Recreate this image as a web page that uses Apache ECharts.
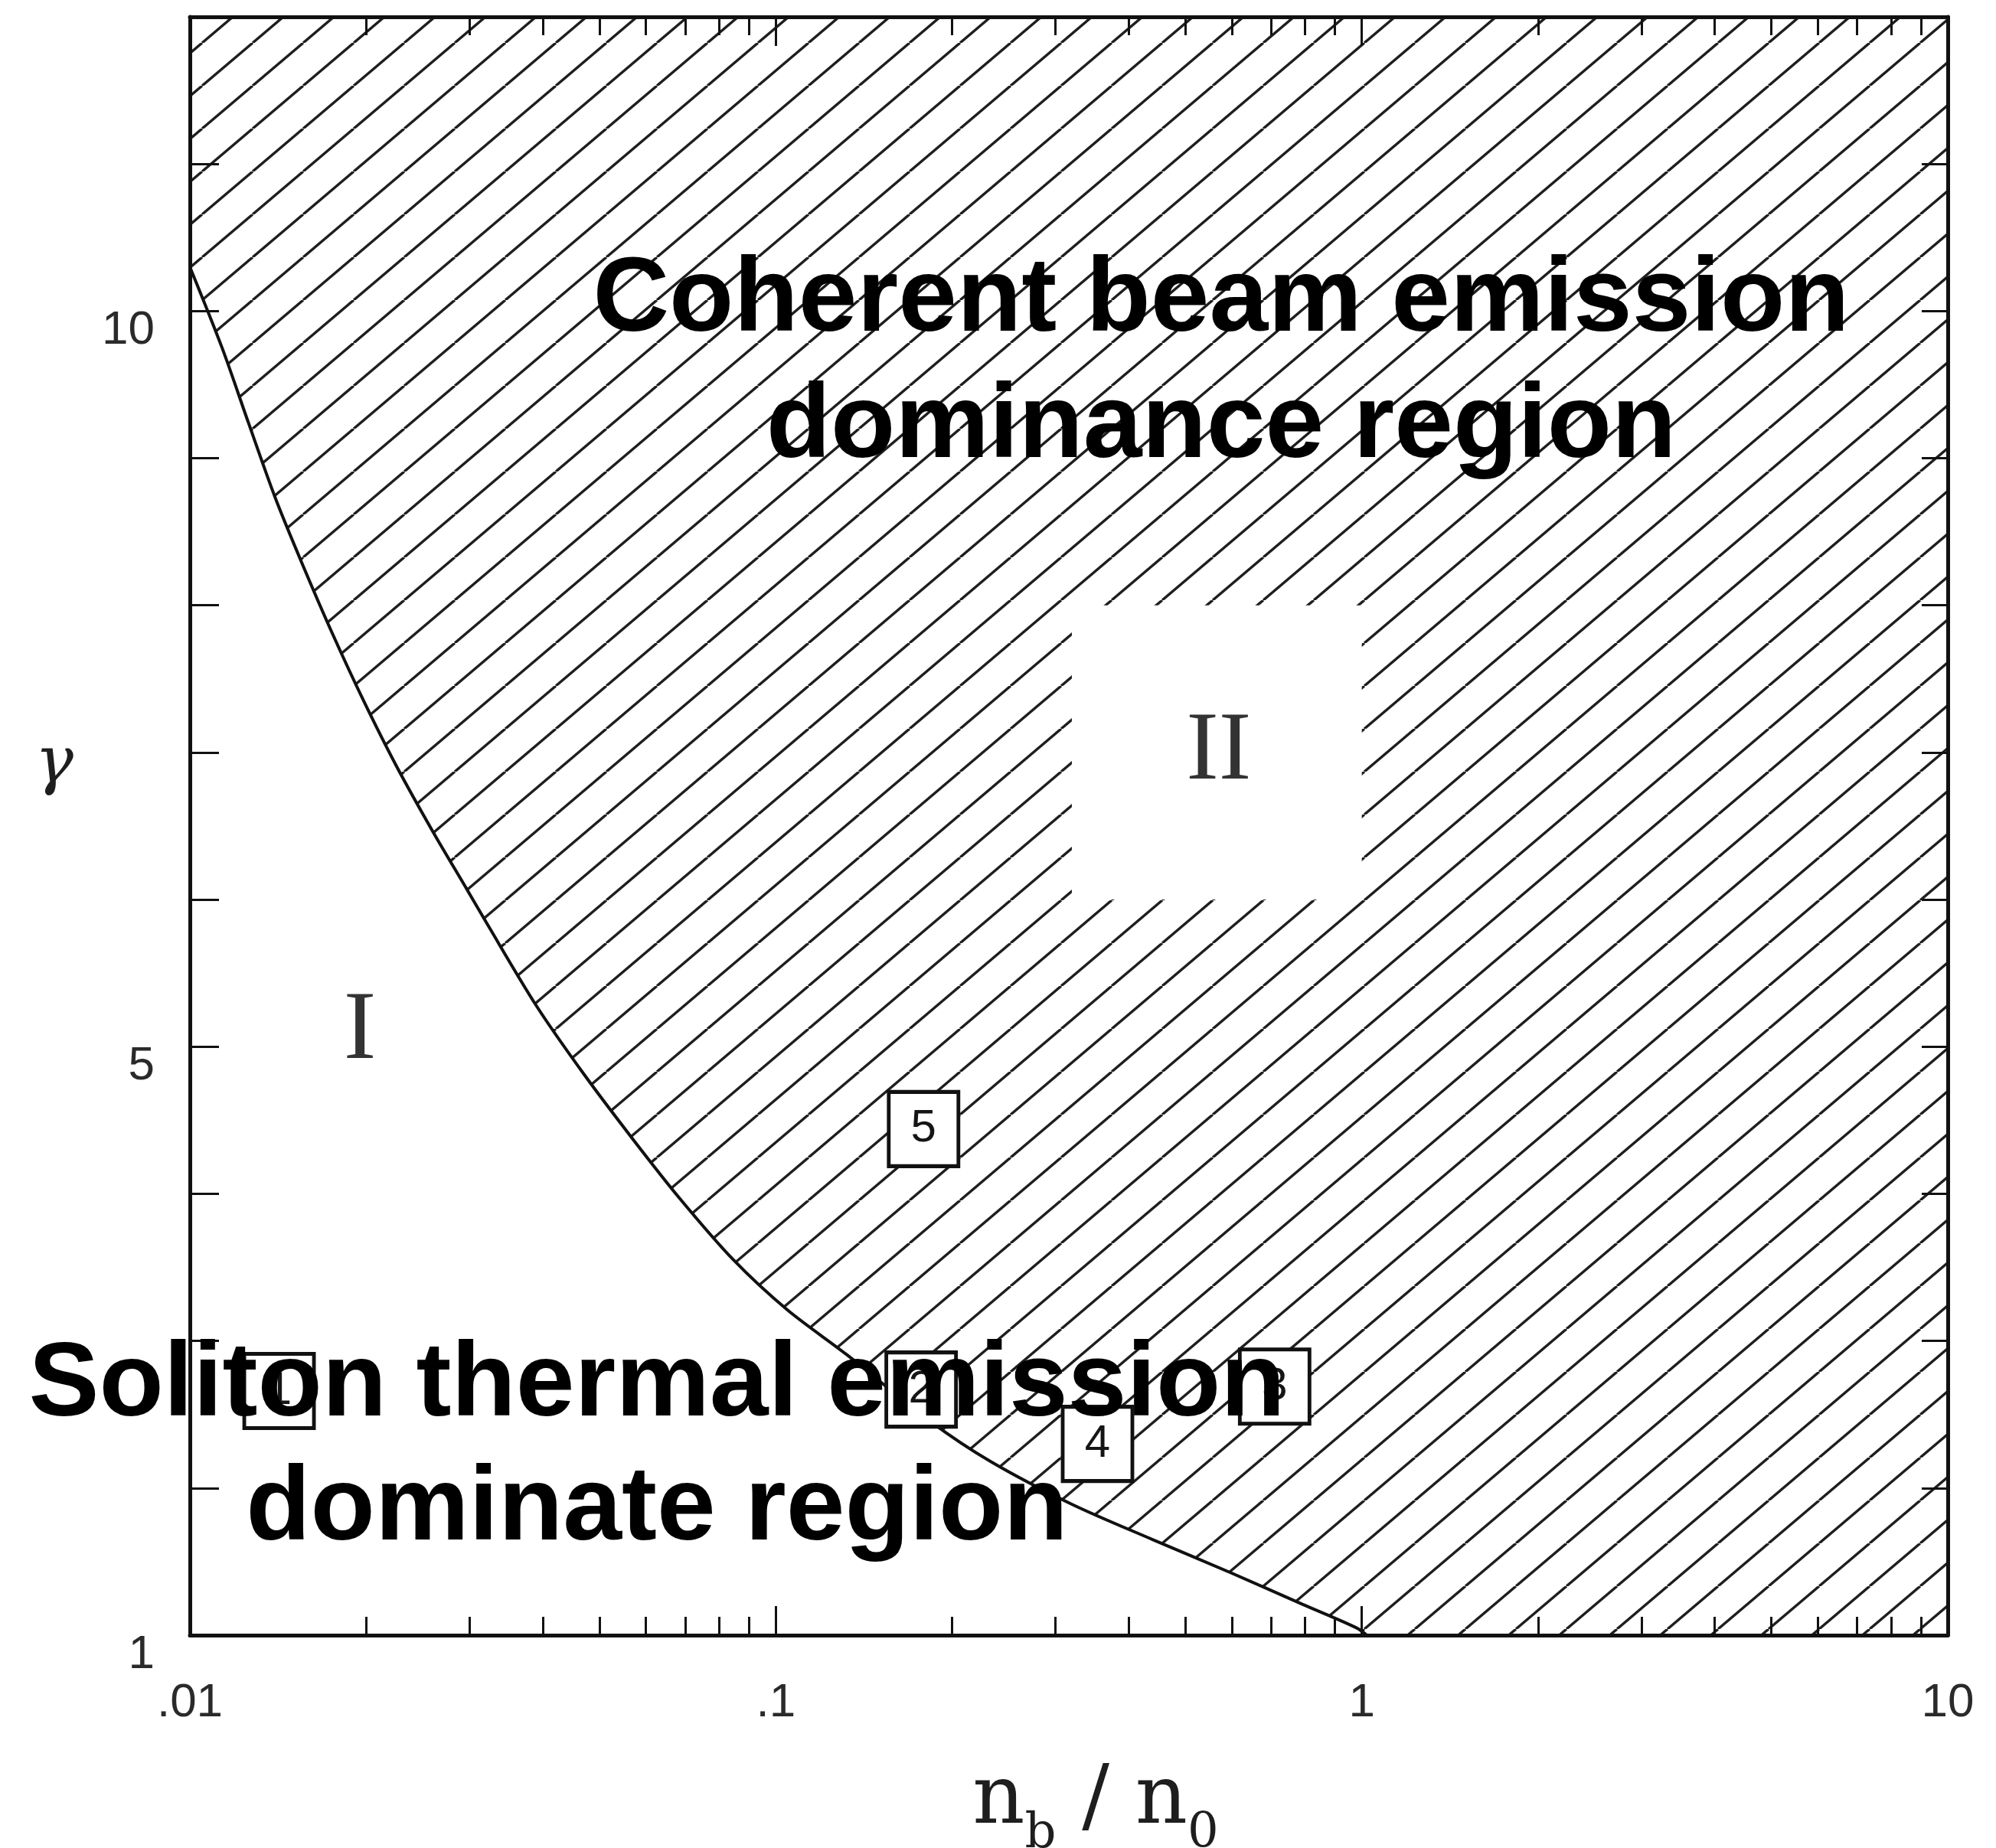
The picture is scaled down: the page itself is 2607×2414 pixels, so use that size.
<!DOCTYPE html>
<html>
<head>
<meta charset="utf-8">
<script src="https://cdn.jsdelivr.net/npm/echarts@6/dist/echarts.min.js"></script>
<style>
html,body{margin:0;padding:0;background:#fff;}
#chart{width:2607px;height:2414px;}
</style>
</head>
<body>
<div id="chart"></div>
<script>
// ---- data ----
// boundary curve: n_b/n_0 vs gamma
const curveX = [0.01, 0.01135, 0.01259, 0.01399, 0.01556, 0.0175, 0.0198, 0.0225, 0.026, 0.0297, 0.0321, 0.039, 0.0471, 0.0568, 0.0685, 0.0847, 0.1047, 0.1318, 0.184, 0.2327, 0.32, 0.4395, 0.601, 0.792, 0.979, 1.02];
const curveY = [10.3, 9.75, 9.24, 8.73, 8.28, 7.81, 7.35, 6.91, 6.46, 6.07, 5.84, 5.28, 4.81, 4.38, 3.97, 3.55, 3.21, 2.91, 2.45, 2.18, 1.89, 1.65, 1.42, 1.21, 1.05, 1.0];
// hatched region continues along gamma = 1 to the right edge
const hatchTailX = [10];
const hatchTailY = [1];

// numbered experiment boxes
const boxX = [0.0142, 0.177, 0.71, 0.354, 0.1787];
const boxY = [2.66, 2.67, 2.69, 2.30, 4.44];
const boxLabels = ['1', '2', '3', '4', '5'];

// region II (white window inside the hatch): [xFrom, xTo, yFrom, yTo]
const regionIIBox = [0.32, 1.0, 6.0, 8.0];

// region labels
const regionLabelX = [0.0195, 0.57];
const regionLabelY = [5.1, 7.0];
const regionLabelText = ['I', 'II'];

// axes
const xMin = 0.01, xMax = 10;
const xMajorTicks = [0.01, 0.1, 1, 10];
const xMajorLabels = ['.01', '.1', '1', '10'];
const xMinorTicks = [0.02, 0.03, 0.04, 0.05, 0.06, 0.07, 0.08, 0.09,
                     0.2, 0.3, 0.4, 0.5, 0.6, 0.7, 0.8, 0.9,
                     2, 3, 4, 5, 6, 7, 8, 9];
const yMin = 1, yMax = 12, yInterval = 1;
const yLabelValues = [1, 5, 10];

const annotationTop = 'Coherent beam emission\ndominance region';
const annotationBottom = 'Soliton thermal emission\ndominate region';

// ---- build chart ----
function makeHatch() {
  const W = 66, H = 56;
  const c = document.createElement('canvas');
  c.width = W; c.height = H;
  const g = c.getContext('2d');
  g.strokeStyle = '#1e1e1e';
  g.lineWidth = 3.4;
  g.lineCap = 'butt';
  for (const dx of [-W, 0, W]) {
    g.beginPath();
    g.moveTo(dx, H);
    g.lineTo(dx + W, 0);
    g.stroke();
  }
  return c;
}

const curveData = curveX.map((x, i) => [x, curveY[i]]);
const hatchData = curveData.concat(hatchTailX.map((x, i) => [x, hatchTailY[i]]));
const boxData = boxX.map((x, i) => [x, boxY[i], boxLabels[i]]);
const regionLabelData = regionLabelX.map((x, i) => [x, regionLabelY[i], regionLabelText[i]]);

function xLabelFmt(v) {
  const e = Math.round(Math.log10(v));
  const idx = xMajorTicks.findIndex(t => Math.round(Math.log10(t)) === e);
  return idx >= 0 ? xMajorLabels[idx] : '';
}

const axisLineStyle = { color: '#111', width: 5 };
const tickFont = '"Liberation Sans Narrow", "Liberation Sans", Arial, sans-serif';

const chart = echarts.init(document.getElementById('chart'), null, { renderer: 'canvas' });

const option = {
  backgroundColor: '#fff',
  animation: false,
  grid: { left: 248, right: 63, top: 22, bottom: 278, containLabel: false, outerBoundsMode: 'none' },
  xAxis: [
    {
      type: 'log', logBase: 10, min: xMin, max: xMax, position: 'bottom', z: 10,
      axisLine: { show: true, lineStyle: axisLineStyle },
      axisTick: { show: true, inside: true, length: 38, lineStyle: { color: '#111', width: 3 }, customValues: xMajorTicks },
      axisLabel: { show: true, customValues: xMajorTicks, formatter: xLabelFmt, fontSize: 62, color: '#2a2a2a', fontFamily: tickFont, margin: 58 },
      splitLine: { show: false },
      name: '{g|}{n|n}{s|b}{n| / n}{s|0}',
      nameLocation: 'middle',
      nameGap: 172,
      nameTextStyle: {
        rich: {
          g: { width: 70, fontSize: 10, verticalAlign: 'bottom', lineHeight: 10 },
          n: { fontFamily: '"DejaVu Serif", serif', fontSize: 106, color: '#1e1e1e', verticalAlign: 'bottom', lineHeight: 120, padding: [0, 0, 22, 0] },
          s: { fontFamily: '"DejaVu Serif", serif', fontSize: 64, color: '#1e1e1e', verticalAlign: 'bottom', lineHeight: 64 }
        }
      }
    },
    {
      type: 'log', logBase: 10, min: xMin, max: xMax, position: 'bottom', z: 10,
      axisLine: { show: false },
      axisTick: { show: true, inside: true, length: 24, lineStyle: { color: '#111', width: 3 }, customValues: xMinorTicks },
      axisLabel: { show: false },
      splitLine: { show: false }
    },
    {
      type: 'log', logBase: 10, min: xMin, max: xMax, position: 'top', z: 10,
      axisLine: { show: true, lineStyle: axisLineStyle },
      axisTick: { show: true, inside: true, length: 38, lineStyle: { color: '#111', width: 3 }, customValues: xMajorTicks },
      axisLabel: { show: false },
      splitLine: { show: false }
    },
    {
      type: 'log', logBase: 10, min: xMin, max: xMax, position: 'top', z: 10,
      axisLine: { show: false },
      axisTick: { show: true, inside: true, length: 24, lineStyle: { color: '#111', width: 3 }, customValues: xMinorTicks },
      axisLabel: { show: false },
      splitLine: { show: false }
    }
  ],
  yAxis: [
    {
      type: 'value', min: yMin, max: yMax, interval: yInterval, position: 'left', z: 10,
      axisLine: { show: true, lineStyle: axisLineStyle },
      axisTick: { show: true, inside: true, length: 38, lineStyle: { color: '#111', width: 3 } },
      axisLabel: {
        show: true, fontSize: 62, color: '#2a2a2a', fontFamily: tickFont, margin: 46,
        verticalAlign: 'top', lineHeight: 52,
        formatter: v => (yLabelValues.indexOf(v) >= 0 ? String(v) : '')
      },
      splitLine: { show: false },
      name: 'γ',
      nameLocation: 'middle',
      nameRotate: 0,
      nameGap: 152,
      nameTextStyle: { fontFamily: '"DejaVu Serif", serif', fontStyle: 'italic', fontSize: 84, color: '#1e1e1e', verticalAlign: 'bottom', lineHeight: 160 }
    },
    {
      type: 'value', min: yMin, max: yMax, interval: yInterval, position: 'right', z: 10,
      axisLine: { show: true, lineStyle: axisLineStyle },
      axisTick: { show: true, inside: true, length: 34, lineStyle: { color: '#111', width: 3 } },
      axisLabel: { show: false },
      splitLine: { show: false }
    }
  ],
  series: [
    {
      name: 'hatch',
      type: 'line',
      xAxisIndex: 0, yAxisIndex: 0,
      data: hatchData,
      symbol: 'none',
      smooth: 0.3,
      silent: true,
      z: 1,
      lineStyle: { width: 0, opacity: 0 },
      areaStyle: { origin: 'end', opacity: 1, color: { image: makeHatch(), repeat: 'repeat' } }
    },
    {
      name: 'regionII',
      type: 'custom',
      xAxisIndex: 0, yAxisIndex: 0,
      silent: true,
      z: 2,
      data: [regionIIBox],
      encode: { x: [0, 1], y: [2, 3] },
      renderItem: function (params, api) {
        const p0 = api.coord([api.value(0), api.value(3)]);
        const p1 = api.coord([api.value(1), api.value(2)]);
        return {
          type: 'rect',
          shape: { x: p0[0], y: p0[1], width: p1[0] - p0[0], height: p1[1] - p0[1] },
          style: { fill: '#fff' }
        };
      }
    },
    {
      name: 'boundary',
      type: 'line',
      xAxisIndex: 0, yAxisIndex: 0,
      data: curveData,
      symbol: 'none',
      smooth: 0.3,
      z: 3,
      lineStyle: { color: '#111', width: 4 }
    },
    {
      name: 'experiments',
      type: 'scatter',
      xAxisIndex: 0, yAxisIndex: 0,
      data: boxData,
      symbol: 'rect',
      symbolSize: [91, 97],
      z: 4,
      itemStyle: { color: '#fff', borderColor: '#111', borderWidth: 5, opacity: 1 },
      label: {
        show: true, position: 'inside',
        formatter: p => p.value[2],
        fontSize: 60, color: '#151515', fontFamily: '"Liberation Sans", Arial, sans-serif'
      }
    },
    {
      name: 'regions',
      type: 'scatter',
      xAxisIndex: 0, yAxisIndex: 0,
      data: regionLabelData,
      symbolSize: 0,
      z: 5,
      silent: true,
      label: {
        show: true, position: 'inside',
        formatter: p => p.value[2],
        fontSize: 128, color: '#000', fontFamily: '"Liberation Serif", "Times New Roman", serif'
      }
    }
  ],
  graphic: [
    {
      type: 'text', x: 1595, y: 476, z: 100,
      style: {
        text: annotationTop,
        font: 'bold 138px "Liberation Sans", Arial, sans-serif',
        fill: '#000', align: 'center', verticalAlign: 'middle',
        textAlign: 'center', textVerticalAlign: 'middle', lineHeight: 165
      }
    },
    {
      type: 'text', x: 858, y: 1892, z: 100,
      style: {
        text: annotationBottom,
        font: 'bold 138px "Liberation Sans", Arial, sans-serif',
        fill: '#000', align: 'center', verticalAlign: 'middle',
        textAlign: 'center', textVerticalAlign: 'middle', lineHeight: 162
      }
    }
  ]
};

chart.setOption(option);
</script>
</body>
</html>
